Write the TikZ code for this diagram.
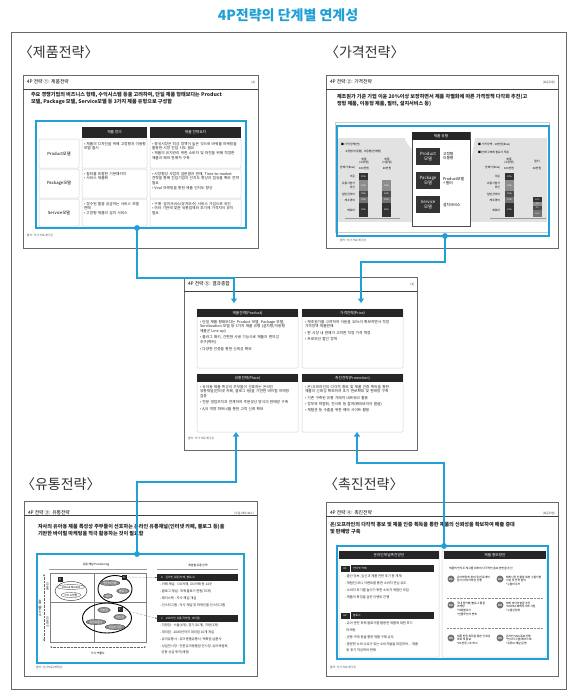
\documentclass[tikz,border=0pt]{standalone}
\usepackage{fontspec}
\setmainfont{Noto Sans CJK KR}
\usetikzlibrary{positioning, shapes.geometric, arrows.meta, calc}

\definecolor{linkblue}{RGB}{32,160,214}
\definecolor{framegray}{RGB}{105,105,105}
\definecolor{panelgray}{RGB}{226,226,226}
\definecolor{cellline}{RGB}{212,212,212}

\newcommand{\hugefs}{\fontsize{14}{16}\selectfont}
\newcommand{\titlefs}{\fontsize{4.8}{5.5}\selectfont}
\newcommand{\descfs}{\fontsize{5.1}{7.4}\selectfont}
\newcommand{\cellfs}{\fontsize{3.7}{4.8}\selectfont}
\newcommand{\itemfs}{\fontsize{3.3}{6.8}\selectfont}
\newcommand{\tinyfs}{\fontsize{2.8}{3.6}\selectfont}

\begin{document}
\begin{tikzpicture}[
        x=1pt, y=-1pt,
        every node/.style={inner sep=0pt, outer sep=0pt},
        section/.style={anchor=west, font=\hugefs, text=black!80},
        slidebox/.style={draw=framegray, line width=0.7pt, fill=white},
        slidetitle/.style={anchor=west, font=\titlefs},
        slidetag/.style={anchor=east, font=\tinyfs, text=black!75},
        descr/.style={anchor=north west, align=left, font=\bfseries\descfs, text=black!85},
        bluebox/.style={draw=linkblue, line width=1.8pt},
        bluedot/.style={circle, fill=linkblue, minimum size=5.5pt},
        blackbar/.style={fill=black!85, text=white, font=\cellfs, align=center},
        subbar/.style={fill=black!85, text=white, font=\tinyfs, anchor=north west, minimum height=7pt},
        cellbox/.style={draw=cellline, line width=0.5pt, rounded corners=1pt},
        modelbox/.style={fill=black!80, text=white, minimum width=24pt, minimum height=17pt, align=center, anchor=north west, font=\fontsize{4.3}{5}\selectfont},
        srcnote/.style={anchor=west, font=\tinyfs, text=black!70},
        items/.style={anchor=north west, align=left, font=\cellfs, text=black!85, text width=#1},
        items/.default=80pt,
        tinylist/.style={anchor=north west, align=left, font=\itemfs, text=black!85},
        blob/.style={ellipse, fill=black!45, draw=black!75, line width=0.3pt, text=white, font=\tinyfs, inner sep=0.6pt},
        numdot/.style={circle, fill=black!55, text=white, font=\bfseries\fontsize{2.9}{3}\selectfont, minimum size=7pt},
        link/.style={draw=linkblue, line width=1.7pt},
        linkarrow/.style={link, -{Triangle[length=4.5pt, width=6pt]}}
    ]

    \useasboundingbox (0,0) rectangle (576,699);
    \fill[white] (0,0) rectangle (576,699);

    % title and outer frame
    \node[font=\bfseries\fontsize{14}{16}\selectfont, text=linkblue] (title) at (288,15) {4P전략의 단계별 연계성};
    \draw[framegray, line width=0.8pt] (11,32) rectangle (566,689);

    % section labels
    \node[section] (secprod) at (19,52) {〈제품전략〉};
    \node[section] (secprice) at (325,52) {〈가격전략〉};
    \node[section] (secplace) at (21,484) {〈유통전략〉};
    \node[section] (secpromo) at (324,484) {〈촉진전략〉};

    % slide frames with header rule
    \foreach \xa/\ya/\xb/\yb in {23/75/258/248, 326/75/558/248, 184/277/417/450, 24/501/257/676, 326/502/558/676}{
        \draw[slidebox] (\xa,\ya) rectangle (\xb,\yb);
        \draw[black!75, line width=0.9pt] (\xa,\ya+14) -- (\xb,\ya+14);
    }

    % ---------- slide 1 : product
    \node[slidetitle] (t1) at (27,82) {4P 전략 ①: 제품전략};
    \node[slidetag] (g1) at (255,83) {[8]};
    \node[descr] (d1) at (31,92) {주요 경쟁기업의 비즈니스 형태, 수익시스템 등을 고려하여, 단일 제품 형태보다는 Product\\모델, Package 모델, Service모델 등 3가지 제품 유형으로 구성함};
    \draw[bluebox] (36,121) rectangle (246,228);
    \node[blackbar, minimum width=65pt, minimum height=11pt, anchor=north west] (h1a) at (82,127) {제품 정의};
    \node[blackbar, minimum width=91pt, minimum height=11pt, anchor=north west] (h1b) at (150,127) {제품 전략요지};
    \foreach \ya/\yb/\lab in {139/168/Product모델, 169/198/Package모델, 199/226/Service모델}{
        \draw[cellbox] (39,\ya) rectangle (79,\yb);
        \draw[cellbox] (82,\ya) rectangle (147,\yb);
        \draw[cellbox] (150,\ya) rectangle (241,\yb);
        \node[font=\fontsize{4.2}{5}\selectfont] (row\ya) at (59,{(\ya+\yb)/2}) {\lab};
    }
    \node[items=62pt] (c11) at (84,142) {• 제품의 디자인을 위해 고정형과 이동형 모델 출시};
    \node[items=88pt] (c12) at (152,142) {• 중국시장은 최상 정책이 높은 것으로 바꿔를 마케팅을 활용한 시장 진입 시도 필요\\• 제품의 유지관리 위한 소비자 및 마진을 위해 적정한 제품과 해외 판매처 구축};
    \node[items=62pt] (c21) at (84,172) {• 필터를 포함한 기본패키지\\• 서비스 제품화};
    \node[items=88pt] (c22) at (152,172) {• 시장형성 사업자 설문결과 판매, Time-to-market 전략을 통해 진입기업의 인지도 향상과 점유율 확보 전략 필요\\• Viral 마케팅을 통한 제품 인지도 향상};
    \node[items=62pt] (c31) at (84,202) {• 정수된 물을 공급하는 서비스 모델 판매\\• 고정형 제품의 설치 서비스};
    \node[items=88pt] (c32) at (152,202) {• 구매·설치서비스(유지보수) 서비스 가입으로 유인\\• 여러 기관에 맞춘 유통업체와 초기에 가격차이 유지 필요};
    \node[srcnote] (s1) at (27,235) {출처: 자사 자료 재구성};

    % ---------- slide 2 : price
    \node[slidetitle] (t2) at (330,82) {4P 전략 ②: 가격전략};
    \node[slidetag] (g2) at (555,83) {[표준도형]};
    \node[descr] (d2) at (337,94) {제조원가 기준 기업 이윤 20\%이상 보장하면서 제품 차별화에 따른 가격정책 다각화 추진(고\\정형 제품, 이동형 제품, 필터, 설치서비스 등)};
    \draw[black!20, line width=0.5pt] (335,122) rectangle (549,232);
    \fill[panelgray] (338,138) rectangle (405,222);
    \fill[panelgray] (405,140) -- (412,150) -- (412,222) -- (405,222) -- cycle;
    \fill[panelgray] (475,138) rectangle (547,222);
    \fill[panelgray] (470,168) -- (475,138) -- (475,222) -- (470,222) -- cycle;
    \draw[bluebox] (337,126) rectangle (549,236);
    % product type box
    \draw[black!70, fill=white, line width=0.5pt] (412,132) rectangle (470,226);
    \node[blackbar, minimum width=58pt, minimum height=8pt, anchor=north west] (h2) at (412,132) {제품 유형};
    \node[modelbox] (m1) at (416,148) {Product\\모델};
    \node[modelbox] (m2) at (416,172) {Package\\모델};
    \node[modelbox] (m3) at (416,196) {Service\\모델};
    \node[anchor=west, align=left, font=\fontsize{3.8}{4.6}\selectfont] (r1) at (443,156) {고정형\\이동형};
    \node[anchor=west, align=left, font=\fontsize{3.8}{4.6}\selectfont] (r2) at (443,181) {Product모델\\+ 필터};
    \node[anchor=west, align=left, font=\fontsize{3.8}{4.6}\selectfont] (r3) at (443,205) {설치서비스};
    % left price panel
    \node[anchor=west, font=\tinyfs] (lp1) at (341,145) {■ 가격 정책(안)};
    \node[anchor=west, font=\tinyfs] (lp2) at (345,152) {고정형(이동형), 이동형(판매형)};
    \node[align=center, font=\tinyfs] (lp3) at (364,161) {제품\\(고정형)};
    \node[align=center, font=\tinyfs] (lp4) at (387,161) {제품\\(이동형)};
    \node[anchor=east, font=\tinyfs] (lp5) at (355,168) {판매가(Exw)};
    \node[font=\tinyfs] (lp6) at (364,168) {100만원};
    \node[font=\tinyfs] (lp7) at (387,168) {60만원};
    \foreach \ya/\yb/\shade/\pct in {173/180/80/30\%, 180/191/45/20\%, 191/197/70/10\%, 197/203/55/10\%, 203/217/80/30\%}{
        \fill[black!\shade] (359,\ya) rectangle (368,\yb);
        \node[text=white, font=\fontsize{2.3}{2.5}\selectfont] (lb\ya) at (363.5,{(\ya+\yb)/2}) {\pct};
    }
    \foreach \ya/\yb/\shade/\pct in {180/191/45/30\%, 191/197/70/10\%, 197/203/55/10\%, 203/217/80/50\%}{
        \fill[black!\shade] (382,\ya) rectangle (391,\yb);
        \node[text=white, font=\fontsize{2.3}{2.5}\selectfont] (lc\ya) at (386.5,{(\ya+\yb)/2}) {\pct};
    }
    \foreach \yy/\lab in {176.5/이윤, 185.5/{유통사업자\\마진}, 194/일반관리비, 200/제조경비, 210/재료비}{
        \node[anchor=east, align=right, font=\tinyfs] (ll\yy) at (355,\yy) {\lab};
    }
    \draw[black!40, line width=0.4pt] (345,218) -- (400,218);
    % right price panel
    \node[anchor=west, font=\tinyfs] (rp1) at (478,145) {■ 가격 정책 : 10만원(Exw)};
    \node[anchor=west, font=\tinyfs] (rp2) at (478,152) {■ 판매 구매에 필요시 적용};
    \node[align=center, font=\tinyfs] (rp3) at (509,161) {제품\\(고정형)};
    \node[align=center, font=\tinyfs] (rp4) at (537,161) {필터};
    \node[anchor=east, font=\tinyfs] (rp5) at (500,168) {판매가(Exw)};
    \node[font=\tinyfs] (rp6) at (509,168) {100만원};
    \node[font=\tinyfs] (rp7) at (537,168) {20만원};
    \foreach \ya/\yb/\shade/\pct in {173/180/80/30\%, 180/191/45/20\%, 191/197/70/10\%, 197/203/55/10\%, 203/217/80/30\%}{
        \fill[black!\shade] (505,\ya) rectangle (514,\yb);
        \node[text=white, font=\fontsize{2.3}{2.5}\selectfont] (rb\ya) at (509.5,{(\ya+\yb)/2}) {\pct};
    }
    \foreach \ya/\yb/\shade/\pct in {197/202/80/10\%, 202/206/45/5\%, 206/210/70/5\%, 210/217/55/20\%}{
        \fill[black!\shade] (533,\ya) rectangle (542,\yb);
        \node[text=white, font=\fontsize{2.1}{2.3}\selectfont] (rc\ya) at (537.5,{(\ya+\yb)/2}) {\pct};
    }
    \foreach \yy/\lab in {176.5/이윤, 185.5/{유통사업자\\마진}, 194/일반관리비, 200/제조경비, 210/재료비}{
        \node[anchor=east, align=right, font=\tinyfs] (rl\yy) at (500,\yy) {\lab};
    }
    \draw[black!40, line width=0.4pt] (490,218) -- (546,218);
    \node[srcnote] (s2) at (340,240) {출처: 자사 자료 재구성};

    % ---------- slide 5 : summary
    \node[slidetitle] (t5) at (188,284) {4P 전략 ⑤: 결과종합};
    \node[slidetag] (g5) at (414,285) {[8]};
    \draw[cellbox] (197,309) rectangle (298,368);
    \draw[cellbox] (302,309) rectangle (403,368);
    \draw[cellbox] (197,374) rectangle (298,432);
    \draw[cellbox] (302,374) rectangle (403,432);
    \node[blackbar, minimum width=101pt, minimum height=8pt, anchor=north west] (hprod) at (197,309) {제품전략(Product)};
    \node[blackbar, minimum width=101pt, minimum height=8pt, anchor=north west] (hprice) at (302,309) {가격전략(Price)};
    \node[blackbar, minimum width=101pt, minimum height=8pt, anchor=north west] (hplace) at (197,374) {유통전략(Place)};
    \node[blackbar, minimum width=101pt, minimum height=8pt, anchor=north west] (hpromo) at (302,374) {촉진전략(Promotion)};
    \node[items=94pt] (iprod) at (200,320) {• 단일 제품 형태보다는 Product 모델, Package 모델, Servitization 모델 등 3가지 제품 유형 (설치형/이동형 제품군 Line-up)\\[1.5pt]• 플러그 패키, 간편한 사용 기능으로 제품의 편의성 추구(특허)\\[1.5pt]• 다양한 인증을 통한 신뢰성 확보};
    \node[items=94pt] (iprice) at (305,320) {• 제조원가를 고려하여 이윤을 30\%이 확보하면서 적정 가격정책 제품판매\\[1.5pt]• 판 시장 내 판매가 고려한 적정 가격 책정\\[1.5pt]• 프로모션 할인 정책};
    \node[items=94pt] (iplace) at (200,385) {• 유아용 제품 특성의 주부들이 선호하는 온라인 유통채널(인터넷 카페, 블로그 등)을 기반한 바이럴 마케팅 집중\\[1.5pt]• 전문 영업조직과 연계하여 주문생산 방식의 판매망 구축\\[1.5pt]• A/S 역량 파트너를 통한 고객 신뢰 확보};
    \node[items=94pt] (ipromo) at (305,385) {• 온/오프라인의 다각적 홍보 및 제품 인증 획득을 통한 제품의 신뢰성 확보하여 초기 판로확대 및 판매망 구축\\[1.5pt]• 기존 구축된 유통 거래처 네트워크 활용\\[1.5pt]• 정부와 박람회, 전시회 등 참여(해외바이어 발굴)\\[1.5pt]• 체험관 등 수출을 위한 해외 사이트 활용};
    \node[srcnote] (s5) at (188,438) {출처: 자사 자료 재구성};

    % ---------- slide 3 : place
    \node[slidetitle] (t3) at (28,513) {4P 전략 ③: 유통전략};
    \node[slidetag] (g3) at (254,514) {[도움/메모/복스]};
    \node[descr] (d3) at (38,524) {자사의 유아용 제품 특성상 주부들이 선호하는 온라인 유통채널(인터넷 카페, 블로그 등)을\\기반한 바이럴 마케팅을 적극 활용하는 것이 필요함};
    \draw[bluebox] (37,554) rectangle (244,663);
    % positioning chart
    \node[font=\tinyfs] (ch3) at (96,565) {유통 채널 Positioning};
    \draw[black!40, line width=0.6pt] (49,569) -- (147,569);
    \draw[black!50, line width=0.5pt] (50,573) rectangle (146,642);
    \draw[black!50, line width=0.5pt] (94,573) -- (94,642);
    \draw[black!50, line width=0.5pt] (50,602) -- (146,602);
    \draw[black!60, densely dotted, {Stealth[length=2pt]}-{Stealth[length=2pt]}] (44,574) -- (44,641);
    \draw[black!60, densely dotted, {Stealth[length=2pt]}-{Stealth[length=2pt]}] (50,647) -- (146,647);
    \node[font=\tinyfs, rotate=90] (ax1) at (40,608) {유아 제품 특화};
    \node[font=\tinyfs, rotate=90] (ax2) at (47.5,587) {온라인};
    \node[font=\tinyfs, rotate=90] (ax3) at (47.5,622) {오프라인};
    \node[font=\tinyfs] (ax4) at (98,653) {자사 역할도};
    % channel groups
    \node[ellipse, draw=black!70, line width=0.5pt, minimum width=32pt, minimum height=19pt] (eb) at (71,591) {};
    \node[ellipse, draw=black!60, line width=0.4pt, font=\tinyfs, inner sep=0.6pt] (eb1) at (71,587) {Online Market};
    \node[ellipse, draw=black!60, line width=0.4pt, font=\tinyfs, inner sep=0.6pt] (eb2) at (71,595) {OO 쇼핑몰};
    \node[fill=black!85, text=white, font=\tinyfs, minimum size=5pt] (lb) at (60,579) {B};
    \node[ellipse, draw=black, line width=0.9pt, minimum width=34pt, minimum height=27pt] (ea) at (115,589) {};
    \node[blob] (ea1) at (110,583) {인터넷카페};
    \node[blob] (ea2) at (123,591) {블로그};
    \node[blob] (ea3) at (108,596) {SNS};
    \node[fill=black!85, text=white, font=\tinyfs, minimum size=5pt] (la) at (124,577) {A};
    \node[ellipse, draw=black, line width=0.9pt, minimum width=49pt, minimum height=30pt] (ec) at (107,618) {};
    \node[blob] (ec1) at (104,610) {직영점};
    \node[blob] (ec2) at (120,617) {대리점};
    \node[blob] (ec3) at (96,622) {유아유통사};
    \node[blob] (ec4) at (115,627) {상설전시장};
    \node[fill=black!85, text=white, font=\tinyfs, minimum size=5pt] (lc) at (120,609) {C};
    % channel lists
    \node[font=\tinyfs] (ch3b) at (198,565) {채널별 유통 전략};
    \draw[black!40, line width=0.6pt] (157,569) -- (238,569);
    \node[subbar, minimum width=81pt] (ba) at (157,574) {};
    \node[anchor=west, text=white, font=\tinyfs] (bat) at (161,577.5) {A\quad 온라인 유통(카페, 블로그)};
    \node[subbar, minimum width=81pt] (bc) at (157,615) {};
    \node[anchor=west, text=white, font=\tinyfs] (bct) at (161,618.5) {C\quad 오프라인 유통(직영점, 대리점)};
    \draw[black!70, densely dotted, -{Stealth[length=2pt]}] (la) -- (ba.west);
    \draw[black!70, densely dotted, -{Stealth[length=2pt]}] (lc) -- (bc.west);
    \node[tinylist] (lista) at (160,583) {- 카페 채널 : OO카페, OO카페 등 14곳\\- 블로그 채널 : 파워블로거 연합(70개)\\- 페이스북 : 자사 채널 개설\\- 인스타그램 : 자사 채널 및 파워인플 인스타그램};
    \node[tinylist] (listc) at (160,624) {- 직영점 : 서울(4개), 경기(10개), 지방(3개)\\- 대리점 : 20XX년까지 대리점 10개 개설\\- 유아유통사 : 유아용품유통사, 백화점 납품사\\- 상설전시장 : 전문유아용품점 전시장, 유아박람회,\\\ \ 공항 상설 위치(예정)};
    \node[srcnote] (s3) at (36,668) {출처: 자사자료(재작성)};

    % ---------- slide 4 : promotion
    \node[slidetitle] (t4) at (330,513) {4P 전략 ④: 촉진전략};
    \node[slidetag] (g4) at (555,514) {[표준도형]};
    \node[descr] (d4) at (330,522) {온/오프라인의 다각적 홍보 및 제품 인증 획득을 통한 제품의 신뢰성을 확보하여 매출 증대\\및 판매망 구축};
    \draw[bluebox] (337,546) rectangle (548,659);
    \draw[cellbox] (339,551) rectangle (439,657);
    \draw[cellbox] (442,551) rectangle (546,657);
    \node[blackbar, minimum width=100pt, minimum height=8pt, anchor=north west] (h4a) at (339,551) {온라인채널촉진방안};
    \node[blackbar, minimum width=102pt, minimum height=8pt, anchor=north west] (h4b) at (444,551) {제품 홍보방안};
    % online channels
    \node[subbar, minimum width=10pt, draw=white, line width=0.3pt] (a1) at (340,565) {A1};
    \node[subbar, minimum width=83pt, text width=79pt, align=left, inner xsep=2pt] (a1b) at (351,565) {인터넷 카페};
    \node[tinylist] (la1) at (345,575) {- 출산 정보, 임신과 제품 관련 후기 등 게재\\- 체험단/모니 이벤트를 통한 소비자 관심 유도\\- 소비자 후기를 높이기 위한 소비자 체험단 모집\\- 제품의 특징을 살린 이벤트 진행};
    \node[subbar, minimum width=10pt, draw=white, line width=0.3pt] (a2) at (340,612) {A2};
    \node[subbar, minimum width=83pt, text width=79pt, align=left, inner xsep=2pt] (a2b) at (351,612) {블로그};
    \node[tinylist] (la2) at (345,622) {- 유아 관련 파워 블로거를 활용한 제품에 대한 후기\\\ \ 마케팅\\- 공동 구매 등을 통한 제품 구매 유도\\- 충분한 소비 수요가 있는 소비자들을 모집하여... 제품\\\ \ 등 후기 작성하여 판매};
    % product promotion
    \node[anchor=west, font=\tinyfs] (int4) at (449,568) {제품의 인지도 제고를 위하여 다각적인 홍보 방안을 추진};
    \draw[black!45, densely dotted, line width=0.4pt] (447,598) -- (543,598);
    \draw[black!45, densely dotted, line width=0.4pt] (447,628) -- (543,628);
    \node[numdot] (n1) at (451,579) {01};
    \node[numdot] (n2) at (500,579) {02};
    \node[numdot] (n3) at (451,605) {03};
    \node[numdot] (n4) at (500,605) {04};
    \node[numdot] (n5) at (451,638) {05};
    \node[numdot] (n6) at (500,638) {06};
    \node[anchor=north west, align=left, font=\tinyfs] (p1) at (457,576) {유아박람회 참여 및 판로개척\\참가/바이어미팅 진행};
    \node[anchor=north west, align=left, font=\tinyfs] (p2) at (506,576) {해외시장 진출을 위한 수출지원\\사업 및 전략 참여\\*수출바우처};
    \node[anchor=north west, align=left, font=\tinyfs] (p3) at (457,602) {국내 맘카페/블로그 활동\\마케팅\\*파워블로거\\*인플루언서 연계};
    \node[anchor=north west, align=left, font=\tinyfs] (p4) at (506,602) {해외 바이어발굴 추진\\*KOTRA 해외지사화 사업\\*수출상담회};
    \node[anchor=north west, align=left, font=\tinyfs] (p5) at (457,635) {제품 인증 획득을 통한 신뢰성\\확보 및 홍보\\*KC인증, CE/FCC};
    \node[anchor=north west, align=left, font=\tinyfs] (p6) at (506,635) {온라인 SNS 홍보진행\\*인스타그램/페이스북\\*유튜브 채널 운영};
    \node[srcnote] (s4) at (330,667) {출처: 자사 자료 재구성};

    % ---------- links
    \node[bluedot] (dot1) at (137,228) {};
    \node[bluedot] (dot2) at (445,236) {};
    \node[bluedot] (dot3) at (137,554) {};
    \node[bluedot] (dot4) at (444,546) {};
    \coordinate (bend1) at (234,278);
    \coordinate (tip1) at (234,303);
    \coordinate (bend2) at (361,262);
    \coordinate (tip2) at (361,303);
    \coordinate (bend3) at (236,482);
    \coordinate (tip3) at (236,432);
    \coordinate (bend4) at (357,463);
    \coordinate (tip4) at (357,432);
    \draw[linkarrow] (dot1.center) |- (bend1) -- (tip1);
    \draw[linkarrow] (dot2.center) |- (bend2) -- (tip2);
    \draw[linkarrow] (dot3.center) |- (bend3) -- (tip3);
    \draw[linkarrow] (dot4.center) |- (bend4) -- (tip4);
    \node[bluedot] (dot1b) at (dot1) {};
    \node[bluedot] (dot2b) at (dot2) {};
    \node[bluedot] (dot3b) at (dot3) {};
    \node[bluedot] (dot4b) at (dot4) {};

\end{tikzpicture}
\end{document}
